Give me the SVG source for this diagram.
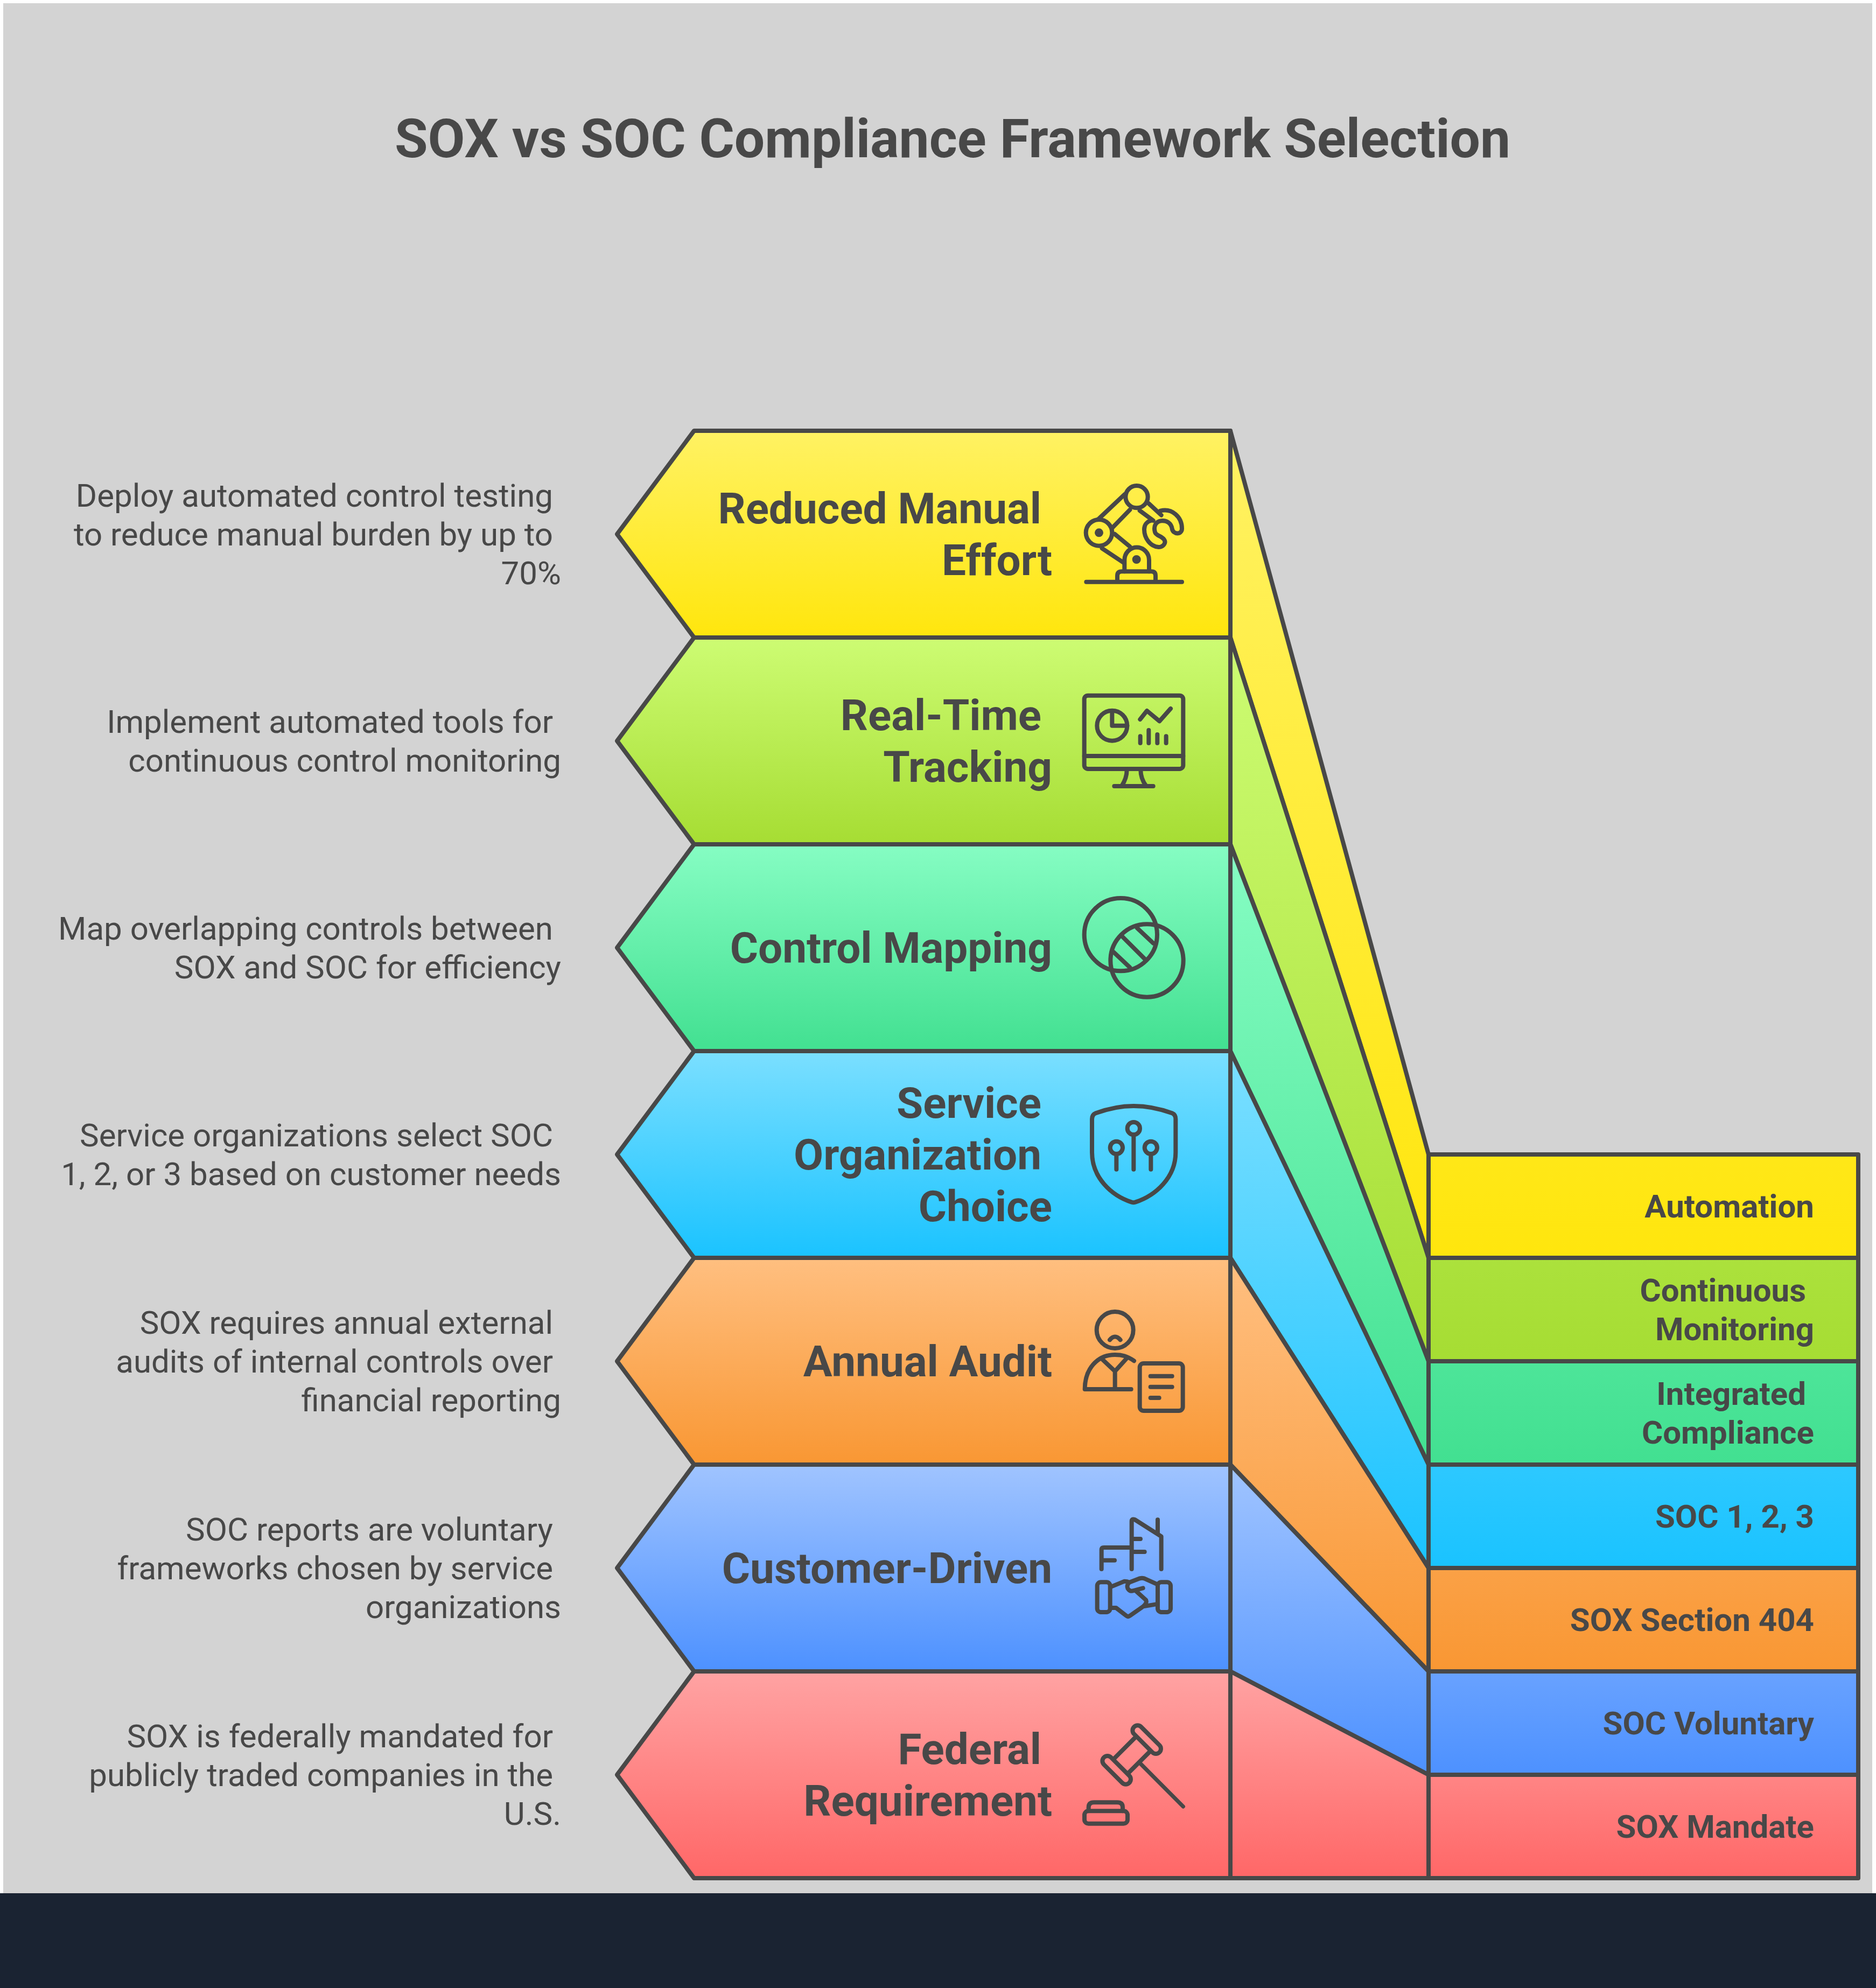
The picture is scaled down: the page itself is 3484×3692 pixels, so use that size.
<svg xmlns="http://www.w3.org/2000/svg" width="3484" height="3692" viewBox="0 0 3484 3692">
<style>
text{font-family:Roboto,"Liberation Sans",sans-serif;fill:#484848}
.title{font-size:100px;font-weight:700}
.lab{font-size:80px;font-weight:700;text-anchor:end}
.box{font-size:60px;font-weight:700;text-anchor:end}
.desc{font-size:60px;font-weight:400;text-anchor:end}
.shape{stroke:#484848;stroke-width:8;stroke-linejoin:round}
.ic{fill:none;stroke:#484848;stroke-width:24;stroke-linecap:round;stroke-linejoin:round}
</style>
<defs>
<linearGradient id="gy" x1="0" y1="0" x2="0" y2="1"><stop offset="0" stop-color="#fff263"/><stop offset="1" stop-color="#ffe60d"/></linearGradient>
<linearGradient id="gg" x1="0" y1="0" x2="0" y2="1"><stop offset="0" stop-color="#cdfc73"/><stop offset="1" stop-color="#a6dd33"/></linearGradient>
<linearGradient id="gt" x1="0" y1="0" x2="0" y2="1"><stop offset="0" stop-color="#86fdc3"/><stop offset="1" stop-color="#42e091"/></linearGradient>
<linearGradient id="gb" x1="0" y1="0" x2="0" y2="1"><stop offset="0" stop-color="#7bdfff"/><stop offset="1" stop-color="#1ac3ff"/></linearGradient>
<linearGradient id="go" x1="0" y1="0" x2="0" y2="1"><stop offset="0" stop-color="#ffbf80"/><stop offset="1" stop-color="#f99733"/></linearGradient>
<linearGradient id="gp" x1="0" y1="0" x2="0" y2="1"><stop offset="0" stop-color="#a0c4ff"/><stop offset="1" stop-color="#4d91ff"/></linearGradient>
<linearGradient id="gr" x1="0" y1="0" x2="0" y2="1"><stop offset="0" stop-color="#ffa3a3"/><stop offset="1" stop-color="#ff6767"/></linearGradient>
<linearGradient id="sy" href="#gy" gradientUnits="userSpaceOnUse" x1="0" y1="800" x2="0" y2="2336"/>
<linearGradient id="sg" href="#gg" gradientUnits="userSpaceOnUse" x1="0" y1="1184" x2="0" y2="2528"/>
<linearGradient id="st" href="#gt" gradientUnits="userSpaceOnUse" x1="0" y1="1568" x2="0" y2="2720"/>
<linearGradient id="sb" href="#gb" gradientUnits="userSpaceOnUse" x1="0" y1="1952" x2="0" y2="2912"/>
<linearGradient id="so" href="#go" gradientUnits="userSpaceOnUse" x1="0" y1="2336" x2="0" y2="3104"/>
<linearGradient id="sp" href="#gp" gradientUnits="userSpaceOnUse" x1="0" y1="2720" x2="0" y2="3296"/>
<linearGradient id="sr" href="#gr" gradientUnits="userSpaceOnUse" x1="0" y1="3104" x2="0" y2="3488"/>
</defs>
<rect width="3484" height="3692" fill="#ffffff"/>
<rect x="6" y="6" width="3471" height="3510" fill="#d3d3d3"/>
<rect x="0" y="3516" width="3484" height="176" fill="#1a2332"/>
<text class="title" x="733" y="292">SOX vs SOC Compliance Framework Selection</text>

<g id="connectors">
<polygon class="shape" fill="url(#sy)" points="2285,800 2653,2144 2653,2336 2285,1184"/>
<polygon class="shape" fill="url(#sg)" points="2285,1184 2653,2336 2653,2528 2285,1568"/>
<polygon class="shape" fill="url(#st)" points="2285,1568 2653,2528 2653,2720 2285,1952"/>
<polygon class="shape" fill="url(#sb)" points="2285,1952 2653,2720 2653,2912 2285,2336"/>
<polygon class="shape" fill="url(#so)" points="2285,2336 2653,2912 2653,3104 2285,2720"/>
<polygon class="shape" fill="url(#sp)" points="2285,2720 2653,3104 2653,3296 2285,3104"/>
<polygon class="shape" fill="url(#sr)" points="2285,3104 2653,3296 2653,3488 2285,3488"/>
</g>

<g id="node-reduced-manual-effort">
<polygon class="shape" fill="url(#gy)" points="1289,800 2285,800 2285,1184 1289,1184 1146,992"/>
<text class="lab" x="1934" y="972">Reduced Manual</text>
<text class="lab" x="1954" y="1068">Effort</text>
<g class="ic" transform="translate(1960 860) scale(.33333)">
<path d="M172 662H705M345 662V628Q345 604 370 604H535Q558 604 558 628V662"/>
<path d="M385 604V540A68 70 0 0 1 522 540V604"/>
<circle cx="243" cy="388" r="73"/>
<circle cx="453" cy="188" r="62"/>
<path d="M240 312L385 175M318 360L415 260M330 395L415 465M260 475L380 555M520 225L590 290M470 265L545 320"/>
<path d="M585 266C650 250 705 300 705 365C705 400 655 400 650 365C645 335 620 318 590 322C560 326 545 350 555 385C560 405 590 405 605 425C620 445 600 468 575 468C530 465 495 420 495 370C495 345 510 325 535 320"/>
<circle cx="243" cy="388" r="12" stroke-width="24"/>
<circle cx="452" cy="537" r="12" stroke-width="24"/>
</g>
</g>

<g id="node-real-time-tracking">
<polygon class="shape" fill="url(#gg)" points="1289,1184 2285,1184 2285,1568 1289,1568 1146,1376"/>
<text class="lab" x="1934" y="1356">Real-Time</text>
<text class="lab" x="1954" y="1452">Tracking</text>
<g class="ic" transform="translate(1960 1260) scale(.33333)">
<rect x="161" y="95" width="551" height="409" rx="20"/>
<path d="M161 432H712M398 510C398 545 385 575 370 598M475 510C475 545 488 575 505 598M328 600H545"/>
<circle cx="316" cy="263" r="84"/>
<path d="M316 180V263H400M472 228L510 180L580 238L642 168M473 322V360M520 288V360M568 312V360M617 322V360"/>
</g>
</g>

<g id="node-control-mapping">
<polygon class="shape" fill="url(#gt)" points="1289,1568 2285,1568 2285,1952 1289,1952 1146,1760"/>
<text class="lab" x="1954" y="1788">Control Mapping</text>
<g class="ic" transform="translate(1960 1640) scale(.33333)">
<circle cx="364" cy="287" r="203"/>
<circle cx="510" cy="432" r="203"/>
<path d="M455 250L545 335M375 300L500 425M325 385L415 470"/>
</g>
</g>

<g id="node-service-organization-choice">
<polygon class="shape" fill="url(#gb)" points="1289,1952 2285,1952 2285,2336 1289,2336 1146,2144"/>
<text class="lab" x="1934" y="2076">Service</text>
<text class="lab" x="1934" y="2172">Organization</text>
<text class="lab" x="1954" y="2268">Choice</text>
<g class="ic" transform="translate(1960 2030) scale(.33333)">
<path d="M436 72C510 72 590 90 650 112C665 118 670 130 670 145V330C670 470 560 570 445 608C438 610 432 610 425 608C310 570 204 470 204 330V145C204 130 210 118 225 112C285 90 360 72 436 72Z"/>
<circle cx="436" cy="197" r="35"/>
<circle cx="340" cy="304" r="35"/>
<circle cx="532" cy="304" r="35"/>
<path d="M436 232V425M340 340V425M532 340V425"/>
</g>
</g>

<g id="node-annual-audit">
<polygon class="shape" fill="url(#go)" points="1289,2336 2285,2336 2285,2720 1289,2720 1146,2528"/>
<text class="lab" x="1954" y="2556">Annual Audit</text>
<g class="ic" transform="translate(1960 2410) scale(.33333)">
<circle cx="332" cy="180" r="102"/>
<path d="M303 235Q332 200 362 235M438 352C400 325 370 318 332 318C235 318 164 395 164 510H422M258 340L332 410L400 335M332 410V510"/>
<rect x="470" y="366" width="240" height="264" rx="22"/>
<path d="M530 437H650M530 497H650M530 558H578"/>
</g>
</g>

<g id="node-customer-driven">
<polygon class="shape" fill="url(#gp)" points="1289,2720 2285,2720 2285,3104 1289,3104 1146,2912"/>
<text class="lab" x="1954" y="2940">Customer-Driven</text>
<g class="ic" transform="translate(1960 2790) scale(.33333)">
<path d="M425 372V105Q425 90 442 96L590 190V372M570 97V170M425 204H474M425 276H497M257 372V265Q257 252 270 252H425M257 323H330"/>
<rect x="233" y="445" width="72" height="167" rx="20"/>
<rect x="570" y="445" width="72" height="167" rx="20"/>
<path d="M312 470L385 440Q400 440 412 446L470 424Q482 420 495 424L570 458M315 588H338L395 632Q405 640 415 632L490 580L560 568M412 446Q395 462 403 480Q415 500 435 492L488 478M450 495L505 545Q512 560 490 580"/>
</g>
</g>

<g id="node-federal-requirement">
<polygon class="shape" fill="url(#gr)" points="1289,3104 2285,3104 2285,3488 1289,3488 1146,3296"/>
<text class="lab" x="1934" y="3276">Federal</text>
<text class="lab" x="1954" y="3372">Requirement</text>
<g class="ic" transform="translate(1960 3170) scale(.33333)">
<path d="M478 320L712 555" stroke-width="22"/>
<rect x="-100" y="-28" width="200" height="56" rx="28" transform="translate(509 182) rotate(45)"/>
<rect x="-100" y="-28" width="200" height="56" rx="28" transform="translate(341 352) rotate(45)"/>
<path d="M445 170L330 285M525 250L410 365"/>
<path d="M185 580V560Q185 532 215 532H345Q375 532 375 560V580"/>
<rect x="162" y="580" width="240" height="70" rx="22"/>
</g>
</g>

<g id="node-automation">
<rect class="shape" x="2653" y="2144" width="798" height="192" fill="url(#sy)"/>
<text class="box" x="3369" y="2261">Automation</text>
</g>
<g id="node-continuous-monitoring">
<rect class="shape" x="2653" y="2336" width="798" height="192" fill="url(#sg)"/>
<text class="box" x="3354" y="2417">Continuous</text>
<text class="box" x="3369" y="2489">Monitoring</text>
</g>
<g id="node-integrated-compliance">
<rect class="shape" x="2653" y="2528" width="798" height="192" fill="url(#st)"/>
<text class="box" x="3354" y="2609">Integrated</text>
<text class="box" x="3369" y="2681">Compliance</text>
</g>
<g id="node-soc-123">
<rect class="shape" x="2653" y="2720" width="798" height="192" fill="url(#sb)"/>
<text class="box" x="3369" y="2837">SOC 1, 2, 3</text>
</g>
<g id="node-sox-404">
<rect class="shape" x="2653" y="2912" width="798" height="192" fill="url(#so)"/>
<text class="box" x="3369" y="3029">SOX Section 404</text>
</g>
<g id="node-soc-voluntary">
<rect class="shape" x="2653" y="3104" width="798" height="192" fill="url(#sp)"/>
<text class="box" x="3369" y="3221">SOC Voluntary</text>
</g>
<g id="node-sox-mandate">
<rect class="shape" x="2653" y="3296" width="798" height="192" fill="url(#sr)"/>
<text class="box" x="3369" y="3413">SOX Mandate</text>
</g>

<g id="descriptions">
<text class="desc" x="1027" y="941">Deploy automated control testing</text>
<text class="desc" x="1027" y="1013">to reduce manual burden by up to</text>
<text class="desc" x="1042" y="1085">70%</text>
<text class="desc" x="1027" y="1361">Implement automated tools for</text>
<text class="desc" x="1042" y="1433">continuous control monitoring</text>
<text class="desc" x="1027" y="1745">Map overlapping controls between</text>
<text class="desc" x="1042" y="1817">SOX and SOC for efficiency</text>
<text class="desc" x="1027" y="2129">Service organizations select SOC</text>
<text class="desc" x="1042" y="2201">1, 2, or 3 based on customer needs</text>
<text class="desc" x="1027" y="2477">SOX requires annual external</text>
<text class="desc" x="1027" y="2549">audits of internal controls over</text>
<text class="desc" x="1042" y="2621">financial reporting</text>
<text class="desc" x="1027" y="2861">SOC reports are voluntary</text>
<text class="desc" x="1027" y="2933">frameworks chosen by service</text>
<text class="desc" x="1042" y="3005">organizations</text>
<text class="desc" x="1027" y="3245">SOX is federally mandated for</text>
<text class="desc" x="1027" y="3317">publicly traded companies in the</text>
<text class="desc" x="1042" y="3389">U.S.</text>
</g>
</svg>
